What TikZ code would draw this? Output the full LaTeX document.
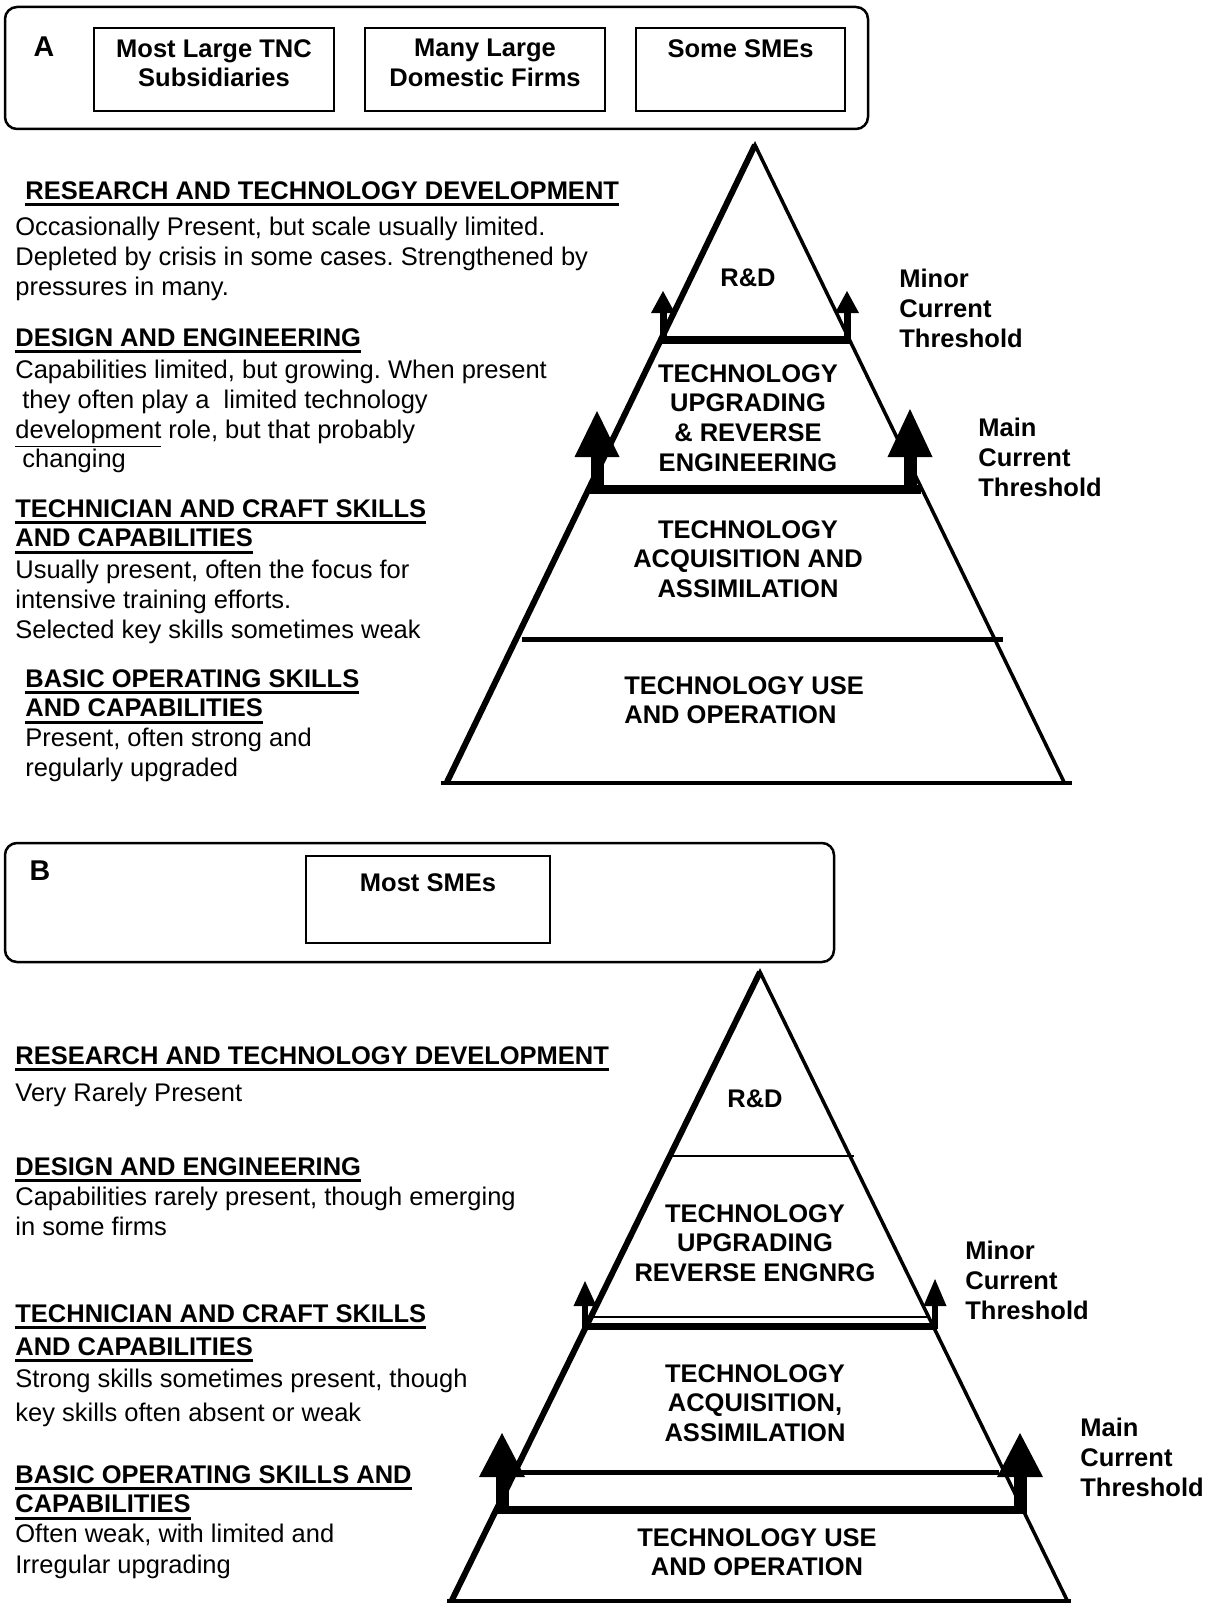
\documentclass[tikz,border=0pt]{standalone}
\usepackage{fontspec}
\setmainfont{Liberation Sans}
\usetikzlibrary{positioning}
\frenchspacing

\newcommand\hdline[1]{\leavevmode\setbox0=\hbox{#1}\rlap{\rule[-3.5pt]{\wd0}{1.5pt}}\box0}

\begin{document}
\begin{tikzpicture}[x=0.5pt,y=0.5pt]
    \tikzstyle{every node}+=[inner sep=0pt]
    \tikzstyle{txt}=[font=\fontsize{12.75pt}{14.8pt}\selectfont, align=left, anchor=north west]
    \tikzstyle{hd}=[txt, font=\fontsize{12.75pt}{14.8pt}\selectfont\bfseries]
    \tikzstyle{lvl}=[hd, align=center, anchor=north]
    \tikzstyle{tag}=[font=\fontsize{14.3pt}{17pt}\selectfont\bfseries]
    \tikzstyle{firm}=[draw, line width=1pt, minimum height=41.5pt]
    \tikzstyle{panel}=[line width=1.25pt, rounded corners=6pt]
    \useasboundingbox (0,0) rectangle (1208,-1605);
    % panel A
    \draw [panel] (5,-7) rectangle (868,-129);
    \node [tag] (pa) at (44,-47) {A};
    \node [firm, minimum width=120pt] (tnc) at (214,-69.5) {};
    \node [firm, minimum width=120pt] (dom) at (485,-69.5) {};
    \node [firm, minimum width=104.5pt] (sme) at (740.5,-69.5) {};
    \node [lvl, below=6pt of tnc.north] (tnct) {Most Large TNC\\Subsidiaries};
    \node [lvl, below=6pt of dom.north] (domt) {Many Large\\Domestic Firms};
    \node [lvl, below=6pt of sme.north] (smet) {Some SMEs};
    \node [hd] (rtda) at (25,-181) {\hdline{RESEARCH AND TECHNOLOGY DEVELOPMENT}};
    \node [txt] (rtdat) at (15,-217) {Occasionally Present, but scale usually limited.\\Depleted by crisis in some cases. Strengthened by\\pressures in many.};
    \node [hd] (dea) at (15,-328) {\hdline{DESIGN AND ENGINEERING}};
    \node [txt] (deat) at (15,-360) {Capabilities limited, but growing. When present\\\hspace*{3.5pt}they often play a\ \ limited technology\\\underline{development} role, but that probably\\\hspace*{3.5pt}changing};
    \node [hd] (tca) at (15,-499) {\hdline{TECHNICIAN AND CRAFT SKILLS}\\\hdline{AND CAPABILITIES}};
    \node [txt] (tcat) at (15,-560) {Usually present, often the focus for\\intensive training efforts.\\Selected key skills sometimes weak};
    \node [hd] (boa) at (25,-669) {\hdline{BASIC OPERATING SKILLS}\\\hdline{AND CAPABILITIES}};
    \node [txt] (boat) at (25,-728) {Present, often strong and\\regularly upgraded};
    % pyramid A
    \draw [line width=1.75pt] (447,-782) -- (755,-145) -- (1064,-782);
    \draw [line width=3pt] (447,-782) -- (755,-145);
    \draw [line width=2pt] (441,-783) -- (1072,-783);
    \draw [line width=2.5pt] (522,-639) -- (1003,-639);
    \draw [line width=4.5pt] (590,-489) -- (921,-489);
    \draw [line width=3.75pt] (660,-340) -- (850,-340);
    \draw [line width=3.5pt] (663,-342) -- (663,-312);
    \fill (651,-313) -- (663,-291) -- (675,-313) -- cycle;
    \draw [line width=3.5pt] (847,-342) -- (847,-312);
    \fill (835,-313) -- (847,-291) -- (859,-313) -- cycle;
    \draw [line width=6.5pt] (597,-493) -- (597,-456);
    \fill (574.5,-457) -- (597,-411) -- (619.5,-457) -- cycle;
    \draw [line width=6.5pt] (910,-493) -- (910,-456);
    \fill (887.5,-457) -- (910,-409) -- (932.5,-457) -- cycle;
    \node [lvl] (rda) at (748,-268) {R\&D};
    \node [lvl] (upa) at (748,-364) {TECHNOLOGY\\UPGRADING\\\& REVERSE\\ENGINEERING};
    \node [lvl] (aqa) at (748,-520) {TECHNOLOGY\\ACQUISITION AND\\ASSIMILATION};
    \node [hd] (usa) at (624,-676) {TECHNOLOGY USE\\AND OPERATION};
    \node [hd] (mina) at (899,-269) {Minor\\Current\\Threshold};
    \node [hd] (maina) at (978,-418) {Main\\Current\\Threshold};
    % panel B
    \draw [panel] (5,-843) rectangle (834,-962);
    \node [tag] (pb) at (40,-871) {B};
    \node [firm, minimum width=122pt, minimum height=43.5pt] (most) at (428,-899.5) {};
    \node [lvl, below=9pt of most.north] (mostt) {Most SMEs};
    \node [hd] (rtdb) at (15,-1046) {\hdline{RESEARCH AND TECHNOLOGY DEVELOPMENT}};
    \node [txt] (rtdbt) at (15,-1083) {Very Rarely Present};
    \node [hd] (deb) at (15,-1157) {\hdline{DESIGN AND ENGINEERING}};
    \node [txt] (debt) at (15,-1187) {Capabilities rarely present, though emerging\\in some firms};
    \node [hd, font=\fontsize{12.75pt}{16.5pt}\selectfont\bfseries] (tcb) at (15,-1304) {\hdline{TECHNICIAN AND CRAFT SKILLS}\\\hdline{AND CAPABILITIES}};
    \node [txt, font=\fontsize{12.75pt}{17pt}\selectfont] (tcbt) at (15,-1369) {Strong skills sometimes present, though\\key skills often absent or weak};
    \node [hd] (bob) at (15,-1465) {\hdline{BASIC OPERATING SKILLS AND}\\\hdline{CAPABILITIES}};
    \node [txt, font=\fontsize{12.75pt}{15.3pt}\selectfont] (bobt) at (15,-1524) {Often weak, with limited and\\Irregular upgrading};
    % pyramid B
    \draw [line width=1.75pt] (452,-1600) -- (760,-972) -- (1067,-1600);
    \draw [line width=3pt] (452,-1600) -- (760,-972);
    \draw [line width=2pt] (447,-1601) -- (1071,-1601);
    \draw [line width=1pt] (670,-1156) -- (854,-1156);
    \draw [line width=1pt] (590,-1317) -- (927,-1317);
    \draw [line width=3.5pt] (584,-1326) -- (937,-1326);
    \draw [line width=2.5pt] (520,-1472) -- (999,-1472);
    \draw [line width=4pt] (500,-1510) -- (1026,-1510);
    \draw [line width=3pt] (585,-1329) -- (585,-1305);
    \fill (573.5,-1306) -- (585,-1281) -- (596.5,-1306) -- cycle;
    \draw [line width=3pt] (935,-1329) -- (935,-1305);
    \fill (923.5,-1306) -- (935,-1279) -- (946.5,-1306) -- cycle;
    \draw [line width=6.5pt] (502,-1514) -- (502,-1476);
    \fill (479,-1477) -- (502,-1433) -- (525,-1477) -- cycle;
    \draw [line width=6.5pt] (1020,-1514) -- (1020,-1476);
    \fill (997,-1477) -- (1020,-1433) -- (1043,-1477) -- cycle;
    \node [lvl] (rdb) at (755,-1089) {R\&D};
    \node [lvl] (upb) at (755,-1204) {TECHNOLOGY\\UPGRADING\\REVERSE ENGNRG};
    \node [lvl] (aqb) at (755,-1364) {TECHNOLOGY\\ACQUISITION,\\ASSIMILATION};
    \node [lvl] (usb) at (757,-1528) {TECHNOLOGY USE\\AND OPERATION};
    \node [hd] (minb) at (965,-1241) {Minor\\Current\\Threshold};
    \node [hd] (mainb) at (1080,-1418) {Main\\Current\\Threshold};
\end{tikzpicture}
\end{document}
